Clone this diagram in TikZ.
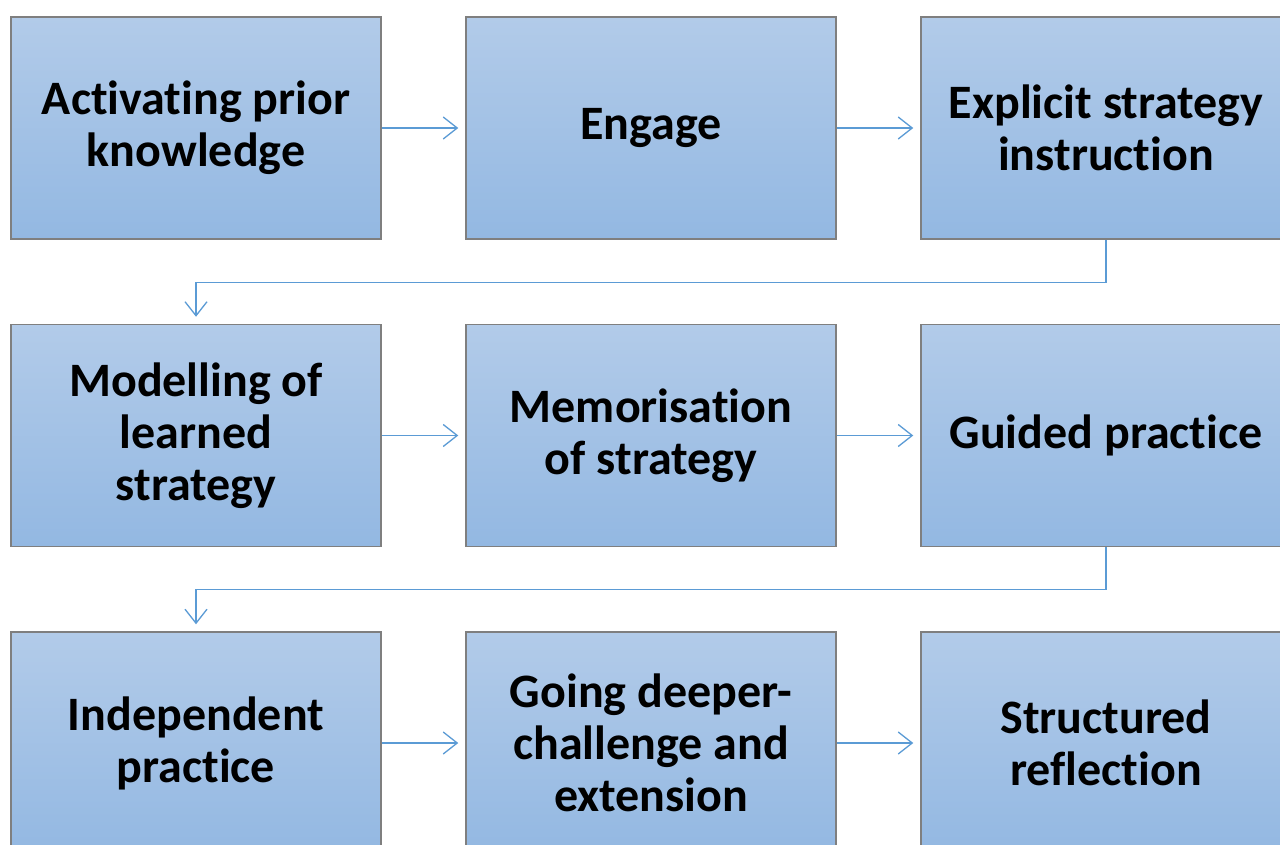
\documentclass[tikz,border=0pt]{standalone}
\usepackage{fontspec}
\setmainfont[RawFeature={-liga;-clig}]{Carlito}
\usetikzlibrary{arrows.meta}
\definecolor{boxtop}{HTML}{B2CBE9}
\definecolor{boxbot}{HTML}{93B8E2}
\definecolor{boxline}{HTML}{7F7F7F}
\definecolor{conn}{HTML}{5B9BD5}
\tikzset{
  stepbox/.style={draw=boxline, line width=1.5pt, top color=boxtop, bottom color=boxbot,
    minimum width=370pt, minimum height=222pt, inner sep=0pt, align=center,
    font=\fontsize{48}{52}\selectfont\bfseries, text=black},
  flow/.style={draw=conn, line width=1.3pt, -{Straight Barb[length=14pt,width=22pt,line width=1.3pt]}, shorten >=7pt}
}
\begin{document}
\begin{tikzpicture}[x=1pt,y=-1pt]
\useasboundingbox (0,0) rectangle (1280,845);
\clip (0,0) rectangle (1280,845);
\fill[white] (0,0) rectangle (1280,845);
\node[stepbox] (a) at (196,128) {Activating prior\\knowledge};
\node[stepbox] (b) at (651,128) {Engage};
\node[stepbox] (c) at (1106,128) {Explicit strategy\\instruction};
\node[stepbox] (d) at (196,435.5) {Modelling of\\learned\\strategy};
\node[stepbox] (e) at (651,435.5) {Memorisation\\of strategy};
\node[stepbox] (f) at (1106,435.5) {Guided practice};
\node[stepbox] (g) at (196,743) {Independent\\practice};
\node[stepbox] (h) at (651,743) {Going deeper-\\challenge and\\extension};
\node[stepbox] (i) at (1106,743) {Structured\\reflection};
\draw[flow] (a) -- (b);
\draw[flow] (b) -- (c);
\draw[flow] (d) -- (e);
\draw[flow] (e) -- (f);
\draw[flow] (g) -- (h);
\draw[flow] (h) -- (i);
\draw[flow] (c.south) -- ++(0,42.5) -| (d.north);
\draw[flow] (f.south) -- ++(0,42) -| (g.north);
\end{tikzpicture}
\end{document}
